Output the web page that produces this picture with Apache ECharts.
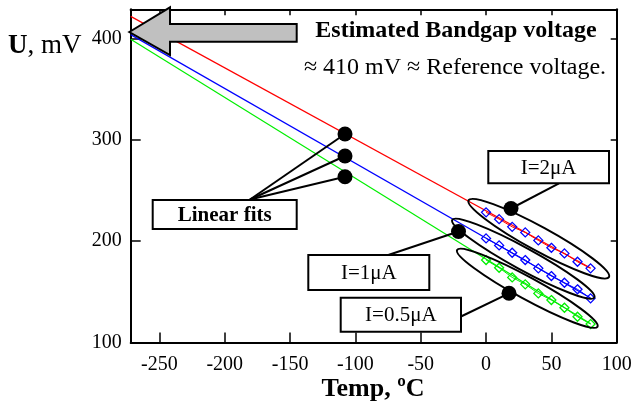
<!DOCTYPE html>
<html>
<head>
<meta charset="utf-8">
<script src="https://cdn.jsdelivr.net/npm/echarts@6/dist/echarts.min.js"></script>
<style>
html,body{margin:0;padding:0;background:#fff;}
#chart{width:637px;height:405px;}
</style>
</head>
<body>
<div id="chart"></div>
<script>
// ---- data ----
const temps = [0, 10, 20, 30, 40, 50, 60, 70, 80];
const u2uA  = [228.5, 221.8, 214.2, 208.7, 200.8, 193.5, 188.0, 179.7, 173.2];
const u1uA  = [202.8, 195.9, 188.6, 181.4, 173.2, 165.6, 159.0, 152.5, 143.6];
const u05uA = [181.4, 173.8, 164.3, 157.4, 148.5, 141.9, 134.3, 125.4, 118.2];

const fitTemps = [-272, 80];
const fit2uA   = [422, 173.5];
const fit1uA   = [404, 144];
const fit05uA  = [399.5, 118.5];

const xTicks = [-250, -200, -150, -100, -50, 0, 50, 100];
const yTicks = [100, 200, 300, 400];

const FONT = '"Liberation Serif","Times New Roman",serif';

function pairs(xs, ys) { return xs.map((x, i) => [x, ys[i]]); }

const chart = echarts.init(document.getElementById('chart'), null, {renderer: 'canvas'});

function fitSeries(vals, color) {
  return {type: 'line', xAxisIndex: 0, yAxisIndex: 0, data: pairs(fitTemps, vals),
    showSymbol: false, symbol: 'none', silent: true,
    lineStyle: {color: color, width: 1.2}, z: 2};
}
function dataSeries(vals, color, lineColor) {
  return {type: 'line', xAxisIndex: 0, yAxisIndex: 0, data: pairs(temps, vals),
    symbol: 'diamond', symbolSize: 9, showSymbol: true,
    lineStyle: {color: lineColor, width: 1},
    itemStyle: {color: 'rgba(255,255,255,0)', borderColor: color, borderWidth: 1.3}, z: 3};
}

const blk = {stroke: '#000', lineWidth: 2};
function ellipse(x, y, rx, ry) {
  return {type: 'ellipse', x: x, y: y, rotation: -0.5, shape: {cx: 0, cy: 0, rx: rx, ry: ry},
    style: {fill: 'none', stroke: '#000', lineWidth: 2}, z: 10};
}
function dot(x, y) {
  return {type: 'circle', shape: {cx: x, cy: y, r: 7.5}, style: {fill: '#000'}, z: 13};
}
function seg(x1, y1, x2, y2) {
  return {type: 'line', shape: {x1: x1, y1: y1, x2: x2, y2: y2}, style: blk, z: 11};
}
function box(x, y, w, h, text, bold) {
  return [
    {type: 'rect', shape: {x: x, y: y, width: w, height: h}, style: {fill: '#fff', stroke: '#000', lineWidth: 2}, z: 12},
    {type: 'text', x: x + w / 2, y: y + h / 2 + 1, z: 14,
     style: {text: text, font: (bold ? 'bold ' : '') + '21px ' + FONT, fill: '#000', align: 'center', verticalAlign: 'middle'}}
  ];
}

const option = {
  animation: false,
  backgroundColor: '#fff',
  grid: {left: 130.7, right: 20.3, top: 9.3, bottom: 62.5},
  xAxis: [
    {type: 'value', min: -272, max: 100, position: 'bottom',
     axisLine: {onZero: false, lineStyle: {color: '#000', width: 2}},
     axisTick: {inside: true, length: 10, customValues: xTicks, lineStyle: {color: '#000', width: 1.5}},
     axisLabel: {customValues: xTicks, color: '#000', fontFamily: FONT, fontSize: 20, margin: 12},
     splitLine: {show: false}},
    {type: 'value', min: -272, max: 100, position: 'top',
     axisLine: {onZero: false, lineStyle: {color: '#000', width: 2}},
     axisTick: {inside: true, length: 6, customValues: xTicks, lineStyle: {color: '#000', width: 1.5}},
     axisLabel: {show: false}, splitLine: {show: false}}
  ],
  yAxis: [
    {type: 'value', min: 100, max: 429, position: 'left',
     axisLine: {show: true, onZero: false, lineStyle: {color: '#000', width: 2}},
     axisTick: {show: true, inside: true, length: 10, customValues: yTicks, lineStyle: {color: '#000', width: 1.5}},
     axisLabel: {customValues: yTicks, color: '#000', fontFamily: FONT, fontSize: 20, margin: 9},
     splitLine: {show: false}},
    {type: 'value', min: 100, max: 429, position: 'right',
     axisLine: {show: true, onZero: false, lineStyle: {color: '#000', width: 2}},
     axisTick: {show: true, inside: true, length: 6, customValues: yTicks, lineStyle: {color: '#000', width: 1.5}},
     axisLabel: {show: false}, splitLine: {show: false}}
  ],
  series: [
    fitSeries(fit2uA, '#ff0000'),
    fitSeries(fit1uA, '#0000ff'),
    fitSeries(fit05uA, '#00ee00'),
    dataSeries(u2uA, '#0000ff', '#ff0000'),
    dataSeries(u1uA, '#0000ff', '#0000ff'),
    dataSeries(u05uA, '#00ee00', '#00ee00')
  ],
  graphic: [
    // big arrow
    {type: 'polygon', z: 9,
     shape: {points: [[129.3, 32], [170, 7.3], [170, 24], [296.7, 24], [296.7, 41.7], [170, 41.7], [170, 55]]},
     style: {fill: '#c0c0c0', stroke: '#000', lineWidth: 2}},
    {type: 'text', x: 456, y: 31, z: 14,
     style: {text: 'Estimated Bandgap voltage', font: 'bold 24px ' + FONT, fill: '#000', align: 'center', verticalAlign: 'middle'}},
    {type: 'text', x: 455, y: 68, z: 14,
     style: {text: '\u2248 410 mV \u2248 Reference voltage.', font: '24px ' + FONT, fill: '#000', align: 'center', verticalAlign: 'middle'}},
    // axis titles
    {type: 'text', x: 8, y: 46, z: 14,
     style: {text: '{b|U}{n|, mV}', align: 'left', verticalAlign: 'middle',
       rich: {b: {font: 'bold 27px ' + FONT, fill: '#000'}, n: {font: '27px ' + FONT, fill: '#000'}}}},
    {type: 'text', x: 373, y: 389, z: 14,
     style: {text: 'Temp, \u00baC', font: 'bold 26px ' + FONT, fill: '#000', align: 'center', verticalAlign: 'middle'}},
    // ellipses
    ellipse(538.8, 238.7, 80, 12),
    ellipse(523.3, 258.7, 81, 11),
    ellipse(527.3, 288.3, 80, 11),
    // callout lines
    seg(250, 199.5, 345, 134),
    seg(250, 199.5, 345, 156),
    seg(250, 199.5, 345, 176.7),
    seg(511, 208.5, 559, 183.3),
    seg(458.5, 231.5, 388.3, 255),
    seg(509, 293.3, 461, 316.5),
    // dots
    dot(345, 134), dot(345, 156), dot(345, 176.7),
    dot(511, 208.5), dot(458.5, 231.5), dot(509, 293.3),
    // boxes
    ...box(152.7, 200, 144, 29, 'Linear fits', true),
    ...box(488.3, 151, 120.7, 32.3, 'I=2\u03bcA', false),
    ...box(308.3, 255, 121, 35, 'I=1\u03bcA', false),
    ...box(340.7, 297.7, 120.3, 34, 'I=0.5\u03bcA', false)
  ]
};
chart.setOption(option);
</script>
</body>
</html>
